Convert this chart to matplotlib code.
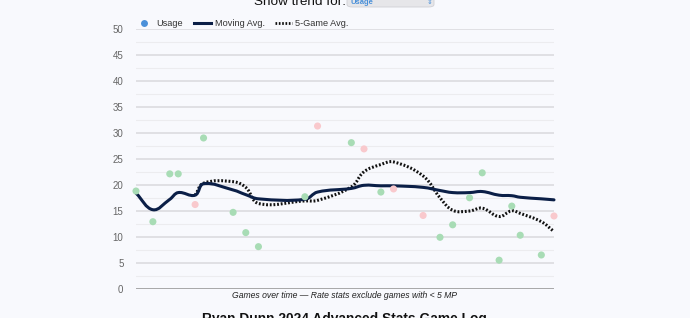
import numpy as np
import matplotlib
matplotlib.use("Agg")
import matplotlib.pyplot as plt
from matplotlib.path import Path
from matplotlib.patches import PathPatch, FancyBboxPatch
from matplotlib.lines import Line2D

plt.rcParams['font.family'] = ['Liberation Sans', 'DejaVu Sans']

# ---- data ----
game_days = [0, 4, 8, 10, 14, 16, 23, 26, 29, 40, 43, 51, 54, 58, 61, 68, 72, 75, 79, 82, 86, 89, 91, 96, 99]
usage = [18.9, 13.0, 22.2, 22.2, 16.3, 29.1, 14.8, 10.9, 8.2, 17.8, 31.4, 28.2, 27.0, 18.7, 19.3,
         14.2, 10.0, 12.4, 17.6, 22.4, 5.6, 16.0, 10.4, 6.6, 14.1]
result = ['W', 'W', 'W', 'W', 'L', 'W', 'W', 'W', 'W', 'W', 'L', 'W', 'L', 'W', 'L',
          'L', 'W', 'W', 'W', 'W', 'W', 'W', 'W', 'W', 'L']
moving_avg = [18.5, 15.3, 17.3, 18.6, 18.1, 20.3, 19.1, 18.2, 17.4, 17.3, 18.7, 19.4, 20.0, 19.9, 19.9,
              19.6, 19.0, 18.6, 18.6, 18.8, 18.1, 18.0, 17.7, 17.4, 17.2]
five_game_avg = [None, None, None, None, 18.1, 20.4, 20.7, 19.6, 16.5, 17.0, 17.1, 19.7, 22.6, 24.0, 24.5,
                 21.8, 17.6, 15.2, 15.05, 15.6, 14.0, 15.1, 14.6, 13.0, 11.1]
y_ticks = [0, 5, 10, 15, 20, 25, 30, 35, 40, 45, 50]
legend_labels = ['Usage', 'Moving Avg.', '5-Game Avg.']
caption = 'Games over time — Rate stats exclude games with < 5 MP'
title = 'Ryan Dunn 2024 Advanced Stats Game Log'
control_label = 'Show trend for:'
control_value = 'Usage'

# ---- style ----
W, H = 690, 318
BG = '#f8f9fd'
NAVY = '#0b1f47'
GREEN = '#a8dcb5'
PINK = '#f9c9cd'
BLUE = '#4a90d9'

fig = plt.figure(figsize=(W / 100, H / 100), dpi=100, facecolor=BG)
L, R, Y0, Y50 = 136, 554, 289.3, 29.3
ax = fig.add_axes([L / W, (H - Y0) / H, (R - L) / W, (Y0 - Y50) / H])
ax.set_facecolor(BG)
ax.set_xlim(min(game_days), max(game_days))
ax.set_ylim(0, 50)
for s in ax.spines.values():
    s.set_visible(False)
ax.set_xticks([])
ax.set_yticks(y_ticks)
ax.tick_params(axis='y', length=0, pad=9, labelsize=7, labelcolor='#666666')
for v in np.arange(2.5, 50, 5):
    ax.axhline(v, color='#ececef', lw=0.8, zorder=0)
for v in y_ticks[1:]:
    ax.axhline(v, color='#dcdcdf', lw=1.2, zorder=0)
ax.axhline(0, color='#9a9a9a', lw=1.2, zorder=0)

xs_pp = (R - L) / (max(game_days) - min(game_days))
ys_pp = (Y0 - Y50) / 50.0


def spline_path(xd, yd, tension=0.4):
    px = np.array(xd, float) * xs_pp
    py = np.array(yd, float) * ys_pp
    n = len(px)
    cpl = np.zeros((n, 2))
    cpr = np.zeros((n, 2))
    for i in range(n):
        p = np.array([px[i], py[i]])
        prev = np.array([px[i - 1], py[i - 1]]) if i > 0 else p
        nxt = np.array([px[i + 1], py[i + 1]]) if i < n - 1 else p
        d01 = np.hypot(*(p - prev))
        d12 = np.hypot(*(nxt - p))
        tot = d01 + d12
        s01 = d01 / tot if tot else 0
        s12 = d12 / tot if tot else 0
        cpl[i] = p - tension * s01 * (nxt - prev)
        cpr[i] = p + tension * s12 * (nxt - prev)
    verts = [(px[0], py[0])]
    codes = [Path.MOVETO]
    for i in range(n - 1):
        verts += [tuple(cpr[i]), tuple(cpl[i + 1]), (px[i + 1], py[i + 1])]
        codes += [Path.CURVE4] * 3
    verts = np.array(verts)
    verts[:, 0] /= xs_pp
    verts[:, 1] /= ys_pp
    return Path(verts, codes)


fx = [d for d, v in zip(game_days, five_game_avg) if v is not None]
fy = [v for v in five_game_avg if v is not None]
ax.add_patch(PathPatch(spline_path(fx, fy), fill=False, edgecolor='#111111', lw=2.2,
                       ls=(0, (0.6, 0.6)), zorder=2, clip_on=False))
ax.add_patch(PathPatch(spline_path(game_days, moving_avg), fill=False, edgecolor=NAVY, lw=2.2,
                       zorder=3, clip_on=False, capstyle='round'))
cols = [GREEN if r == 'W' else PINK for r in result]
ax.scatter(game_days, usage, s=26, c=cols, edgecolors='none', zorder=4, clip_on=False)

# ---- legend ----
def fy_(y):
    return 1 - y / H

fig.add_artist(Line2D([144 / W], [fy_(23)], marker='o', ms=5, color=BLUE, mec='none', lw=0))
fig.text(156 / W, fy_(23), legend_labels[0], fontsize=6.6, color='#333333', va='center')
fig.add_artist(Line2D([194 / W, 211 / W], [fy_(23), fy_(23)], color=NAVY, lw=2.2))
fig.text(215 / W, fy_(23), legend_labels[1], fontsize=6.6, color='#333333', va='center')
fig.add_artist(Line2D([275 / W, 292 / W], [fy_(23), fy_(23)], color='#111111', lw=2.0, ls=(0, (0.6, 0.6))))
fig.text(295 / W, fy_(23), legend_labels[2], fontsize=6.6, color='#333333', va='center')

# ---- top control ----
fig.text(300 / W, fy_(5), control_label, fontsize=9.7, color='#111111', ha='center', va='baseline')
fig.add_artist(FancyBboxPatch((347 / W, fy_(7)), (434 - 347) / W, 14 / H,
                              boxstyle='round,pad=0,rounding_size=0.008',
                              transform=fig.transFigure, facecolor='#e6e6e9',
                              edgecolor='#cfcfd4', lw=0.6))
fig.text(351 / W, fy_(4.5), control_value, fontsize=5.5, color=BLUE, fontweight='bold', va='baseline')
fig.text(430 / W, fy_(4), '⇕', fontsize=5, color=BLUE, ha='center', va='baseline', family='DejaVu Sans')

# ---- caption and title ----
fig.text(345 / W, fy_(296), caption, fontsize=6.2, style='italic', color='#222222', ha='center', va='center')
fig.text(344 / W, fy_(323), title, fontsize=9.9, fontweight='bold', color='#111111', ha='center', va='baseline')

fig.savefig('out.png', dpi=100, facecolor=BG)
